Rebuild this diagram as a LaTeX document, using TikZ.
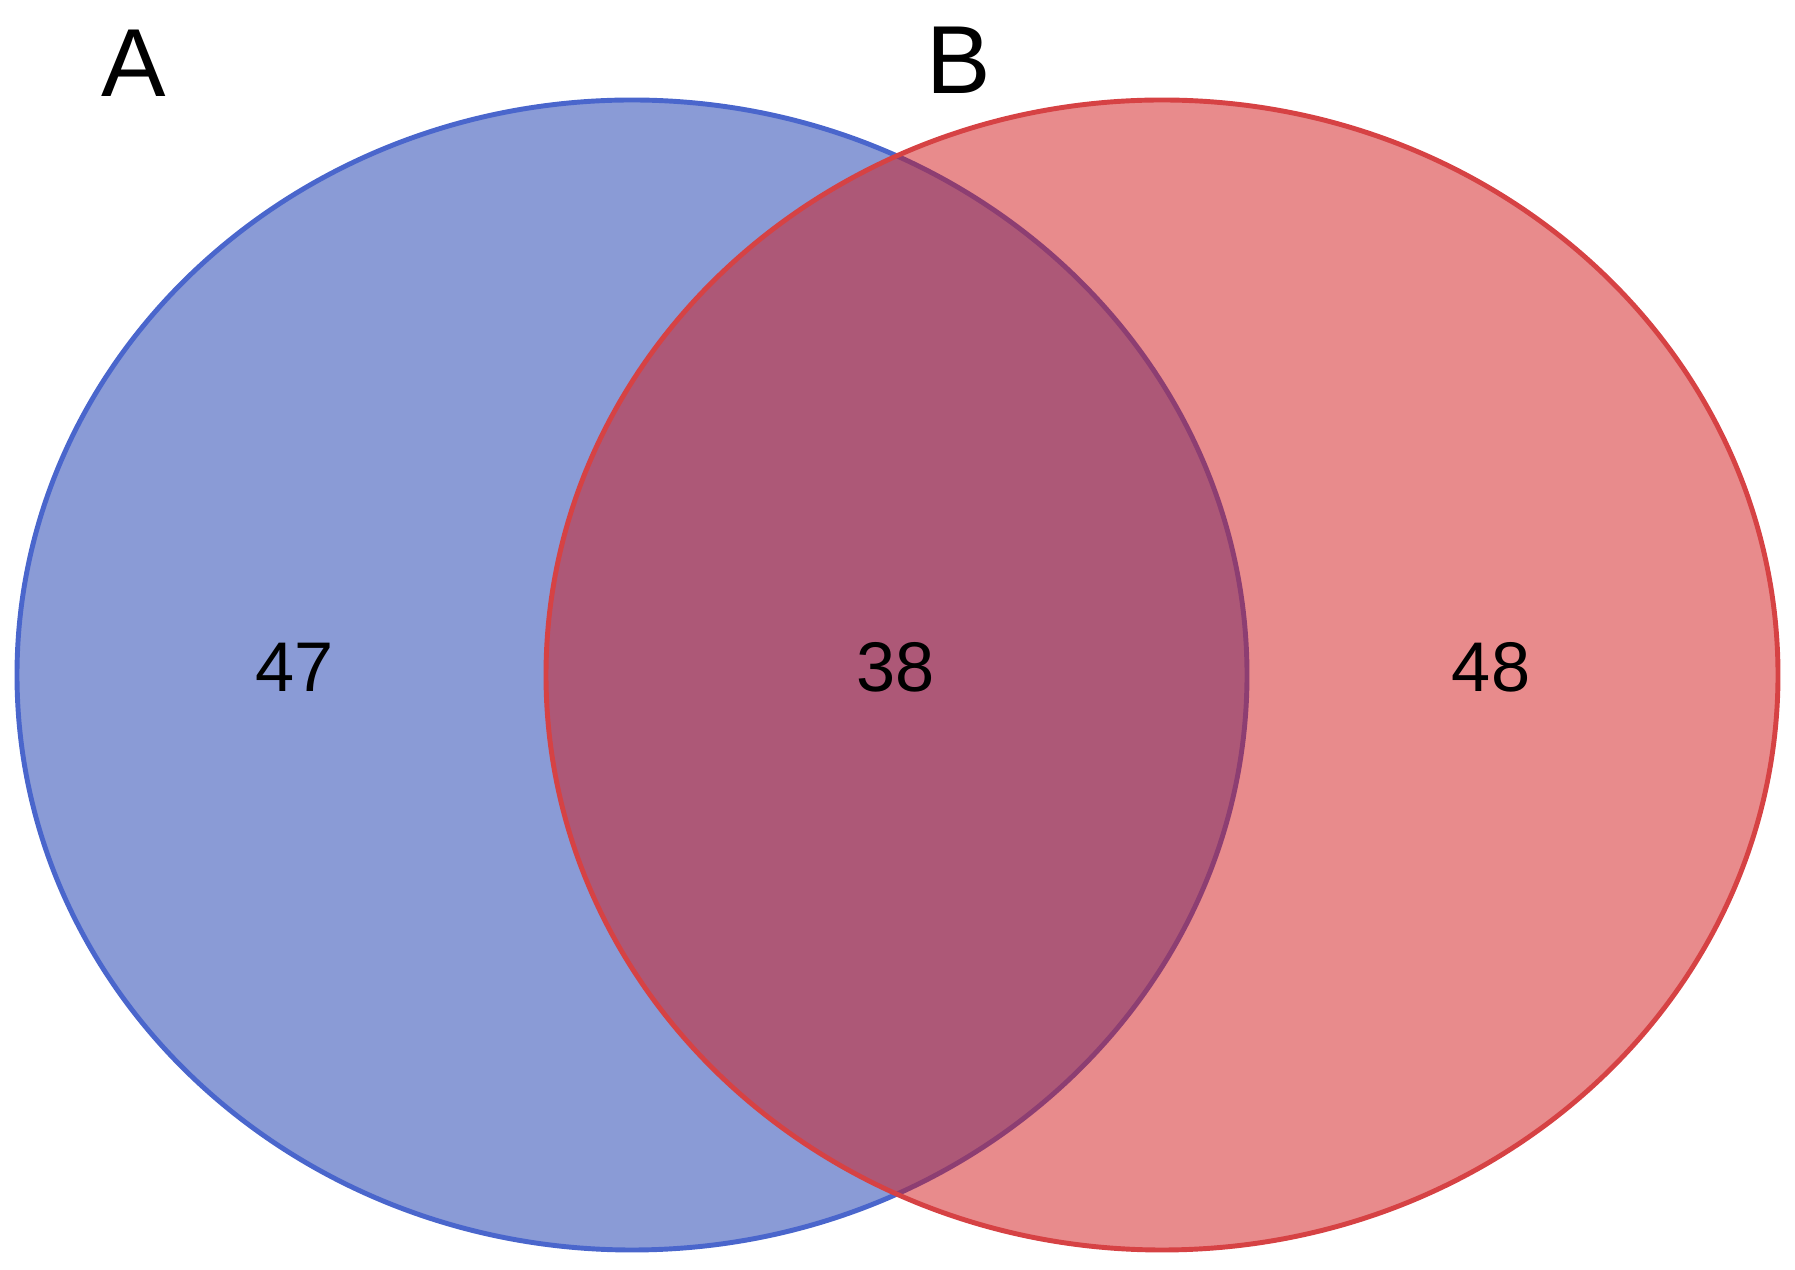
\documentclass[tikz,border=0pt]{standalone}
\usepackage{fontspec}
\setmainfont{Liberation Sans}
\usepackage{xcolor}
\usepackage{tikz}
\usetikzlibrary{shapes.geometric}

\definecolor{setblue}{RGB}{138,155,214}
\definecolor{setblueline}{RGB}{74,102,204}
\definecolor{setred}{RGB}{209,23,25}
\definecolor{setredline}{RGB}{214,66,68}

\begin{document}
\begin{tikzpicture}[
  setbox/.style={ellipse, inner sep=0pt, line width=1.4pt},
  leftset/.style={setbox, draw=setblueline, fill=setblue, minimum width=123mm, minimum height=115mm},
  rightset/.style={setbox, draw=setredline, fill=setred, fill opacity=0.5, draw opacity=1, minimum width=123.2mm, minimum height=115mm},
  setname/.style={font=\fontsize{27.5}{30}\selectfont},
  count/.style={font=\fontsize{20}{22}\selectfont}
]
\useasboundingbox (0,0) rectangle (17.95,12.7);

\node[leftset] (setA) at (6.32,5.95) {};
\node[rightset] (setB) at (11.62,5.95) {};

\node[setname] (nameA) at (1.34,12.07) {A};
\node[setname] (nameB) at (9.59,12.10) {B};

\node[count] (onlyA) at (2.95,6.03) {47};
\node[count] (both) at (8.96,6.03) {38};
\node[count] (onlyB) at (14.91,6.03) {48};
\end{tikzpicture}
\end{document}
